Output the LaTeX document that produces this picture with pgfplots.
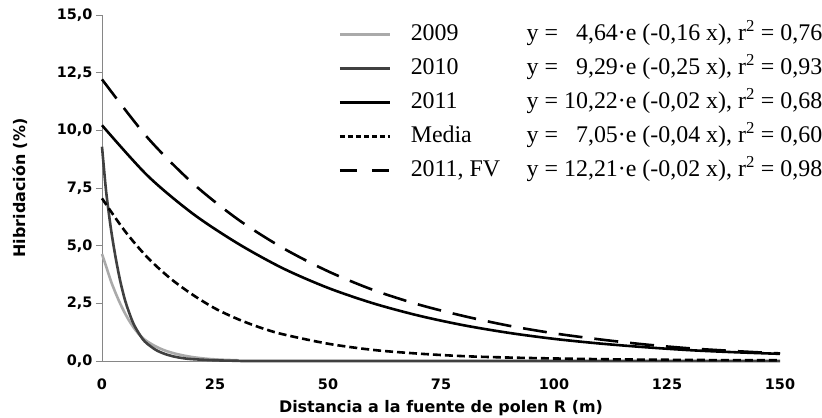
\documentclass[border=0pt]{standalone}
\usepackage{fontspec}
\setmainfont{Liberation Serif}
\newfontfamily\vfont{DejaVu Sans}
\usepackage{pgfplots}
\pgfplotsset{compat=1.18}
\definecolor{c2009}{RGB}{170,170,170}
\definecolor{c2010}{RGB}{64,64,64}
\definecolor{axgray}{RGB}{134,134,134}
\begin{document}
\begin{tikzpicture}
\begin{axis}[
  scale only axis, width=678bp, height=346bp,
  xmin=0, xmax=150, ymin=0, ymax=15, clip=false,
  axis x line=bottom, axis y line=left,
  axis line style={-, draw=axgray, line width=0.9bp},
  xtick={0,25,...,150}, ytick={0,2.5,...,15},
  x tick style={draw=none},
  y tick style={draw=axgray, line width=0.9bp},
  tick align=outside, major tick length=6bp,
  tick label style={font=\vfont\bfseries\fontsize{14.5}{17}\selectfont},
  /pgf/number format/assume math mode=true,
  y tick label style={/pgf/number format/fixed, /pgf/number format/fixed zerofill,
    /pgf/number format/precision=1, /pgf/number format/use comma},
  x tick label style={yshift=-8bp},
  xlabel={Distancia a la fuente de polen R (m)},
  ylabel={Hibridación (\%)},
  label style={font=\vfont\bfseries\fontsize{16}{19}\selectfont},
  xlabel style={at={(axis description cs:0.5,-0.136)}, anchor=center},
  ylabel style={at={(axis description cs:-0.12,0.5)}, anchor=center},
  legend style={at={(axis description cs:0.348,0.975)}, anchor=north west,
    draw=none, fill=none, inner sep=0pt, row sep=12bp,
    font=\fontsize{24}{28}\selectfont, nodes={inner sep=0pt, text height=17bp, text depth=5bp}},
  legend cell align=left,
  legend image code/.code={\path[draw=none] (0bp,0bp) -- (71bp,0bp); \draw[#1] (0bp,0bp) -- (50bp,0bp);},
]
\addplot[forget plot, c2009, line width=2.6bp, smooth] coordinates {
(0,4.64) (1,4.05) (2,3.45) (3,2.95) (4,2.5) (5,2.1) (6,1.75) (7,1.45) (8,1.2) (9,1.0)
(10,0.85) (12,0.62) (14,0.45) (16,0.33) (18,0.24) (20,0.17) (23,0.1) (26,0.06) (30,0.03)};
\addplot[forget plot, c2010, line width=2.6bp, smooth] coordinates {
(0,9.29) (0.5,8.2) (1,7.2) (2,5.7) (3,4.5) (4,3.5) (5,2.7) (6,2.1) (7,1.6) (8,1.25) (9,0.95)
(10,0.75) (12,0.47) (14,0.3) (16,0.19) (18,0.12) (20,0.08) (25,0.03) (30,0.01) (40,0) (150,0)};
\addplot[forget plot, black, line width=2.6bp, smooth] coordinates {
(0,10.22) (10,8.05) (20,6.4) (30,5.1) (40,4.02) (50,3.17) (60,2.5) (70,1.97) (80,1.55)
(90,1.22) (100,0.96) (110,0.76) (120,0.6) (130,0.47) (140,0.38) (150,0.31)};
\addplot[forget plot, black, line width=2.6bp, smooth, dash pattern=on 8bp off 4bp] coordinates {
(0,7.05) (5,5.65) (10,4.5) (15,3.6) (20,2.88) (25,2.28) (30,1.82) (35,1.45) (40,1.16) (50,0.75)
(60,0.48) (70,0.32) (80,0.21) (90,0.15) (100,0.11) (110,0.08) (120,0.06) (135,0.04) (150,0.03)};
\addplot[forget plot, black, line width=2.6bp, smooth, dash pattern=on 24bp off 12bp] coordinates {
(0,12.21) (10,9.7) (20,7.72) (30,6.15) (40,4.9) (50,3.89) (60,3.08) (70,2.45) (80,1.95)
(90,1.53) (100,1.2) (110,0.94) (120,0.72) (130,0.55) (140,0.43) (150,0.33)};
\addlegendimage{c2009, line width=3.2bp}
\addlegendentry{\makebox[116bp][l]{2009}y = \phantom{1}4,64·e (-0,16 x), r\textsuperscript{2} = 0,76}
\addlegendimage{c2010, line width=3.2bp}
\addlegendentry{\makebox[116bp][l]{2010}y = \phantom{1}9,29·e (-0,25 x), r\textsuperscript{2} = 0,93}
\addlegendimage{black, line width=3.2bp}
\addlegendentry{\makebox[116bp][l]{2011}y = 10,22·e (-0,02 x), r\textsuperscript{2} = 0,68}
\addlegendimage{black, line width=3.2bp, dash pattern=on 5bp off 3bp}
\addlegendentry{\makebox[116bp][l]{Media}y = \phantom{1}7,05·e (-0,04 x), r\textsuperscript{2} = 0,60}
\addlegendimage{black, line width=3.2bp, dash pattern=on 17bp off 15bp}
\addlegendentry{\makebox[116bp][l]{2011, FV}y = 12,21·e (-0,02 x), r\textsuperscript{2} = 0,98}
\end{axis}
\pgfresetboundingbox
\path[use as bounding box] ([xshift=-102bp,yshift=-57bp]current axis.south west)
  rectangle ([xshift=42bp,yshift=15bp]current axis.north east);
\end{tikzpicture}
\end{document}
